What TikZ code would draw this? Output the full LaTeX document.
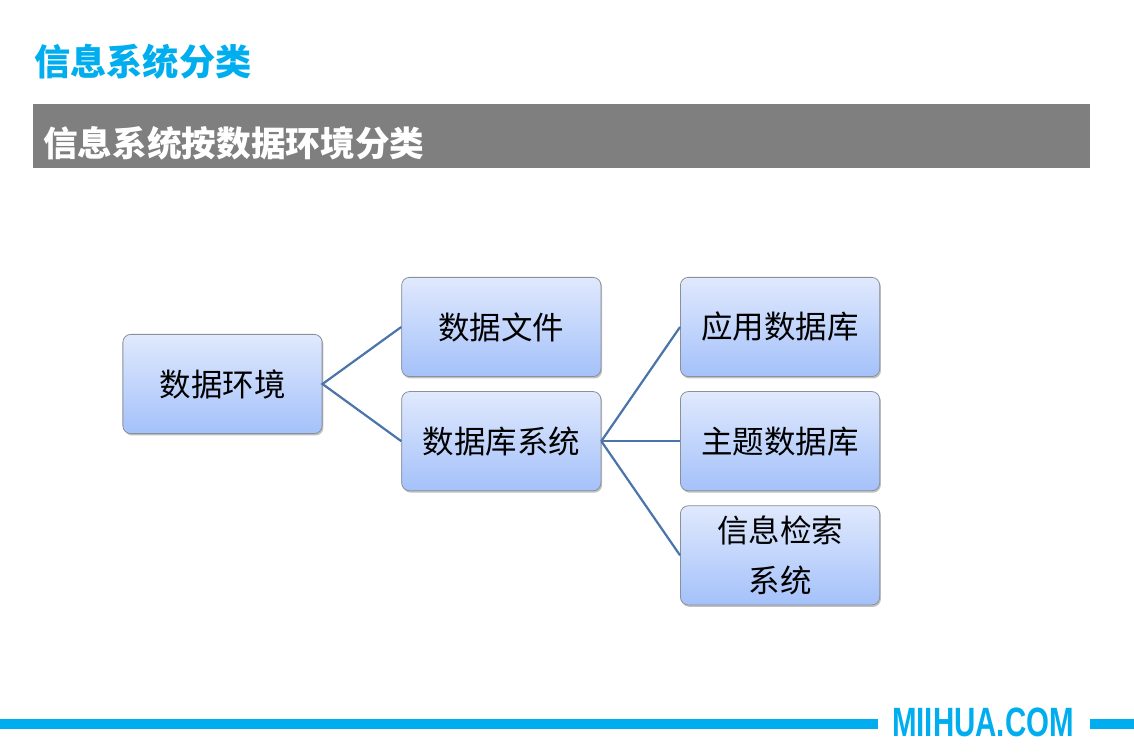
\documentclass[tikz,border=0pt]{standalone}
\usepackage{fontspec}
\newfontfamily\cjk{Noto Sans CJK SC}
\newfontfamily\logofont[FakeStretch=0.72]{Liberation Sans}
\usetikzlibrary{positioning,shadows}

\definecolor{titleblue}{HTML}{00AEEF}
\definecolor{bargray}{HTML}{7F7F7F}
\definecolor{boxtop}{HTML}{E0E9FD}
\definecolor{boxbot}{HTML}{A4C1FA}
\definecolor{boxline}{HTML}{8A8F99}
\definecolor{linkblue}{HTML}{4A74AA}

\begin{document}
\begin{tikzpicture}[
  x=0.63492pt, y=-0.63492pt,
  node distance=9pt and 50pt,
  box/.style={rectangle, draw=boxline, line width=0.5pt, rounded corners=5pt,
              minimum width=126.5pt, minimum height=63pt,
              top color=boxtop, bottom color=boxbot,
              drop shadow={shadow xshift=0.8pt, shadow yshift=-1.2pt,
                           opacity=0.35, fill=black!70},
              font=\cjk\fontsize{20}{32}\selectfont, text centered, align=center},
  link/.style={draw=linkblue, line width=1.4pt},
  band/.style={draw=titleblue, line width=5.8pt}
]
\useasboundingbox (0,0) rectangle (1134,756);

% page title and header bar
\node[anchor=west, inner sep=0pt, text=titleblue,
      font=\cjk\bfseries\fontsize{23}{28}\selectfont] (title) at (34,62) {信息系统分类};
\fill[bargray] (33,104) rectangle (1090,168);
\node[anchor=west, inner sep=0pt, text=white,
      font=\cjk\bfseries\fontsize{22}{26}\selectfont] (head) at (43,143) {信息系统按数据环境分类};

% tree
\node[box] (env) at (222.5,384) {数据环境};
\node[box, right=of env, yshift=36.2pt] (file)  {数据文件};
\node[box, below=of file]               (dbsys) {数据库系统};
\node[box, right=of file]               (appdb) {应用数据库};
\node[box, below=of appdb]              (subdb) {主题数据库};
\node[box, below=of subdb]              (retr)  {信息检索\\系统};

\draw[link] (file.west) -- (env.east) -- (dbsys.west);
\draw[link] (dbsys.east) -- (appdb.west);
\draw[link] (dbsys.east) -- (subdb.west);
\draw[link] (dbsys.east) -- (retr.west);

% footer
\node[inner sep=0pt, text=titleblue,
      font=\logofont\bfseries\fontsize{26}{30}\selectfont] (logo) at (983,722) {MIIHUA.COM};
\coordinate (bl) at (0,724);
\coordinate (bm) at (878,724);
\coordinate (br1) at (1090,724);
\coordinate (br2) at (1134,724);
\draw[band] (bl) -- (bm);
\draw[band] (br1) -- (br2);
\end{tikzpicture}
\end{document}
